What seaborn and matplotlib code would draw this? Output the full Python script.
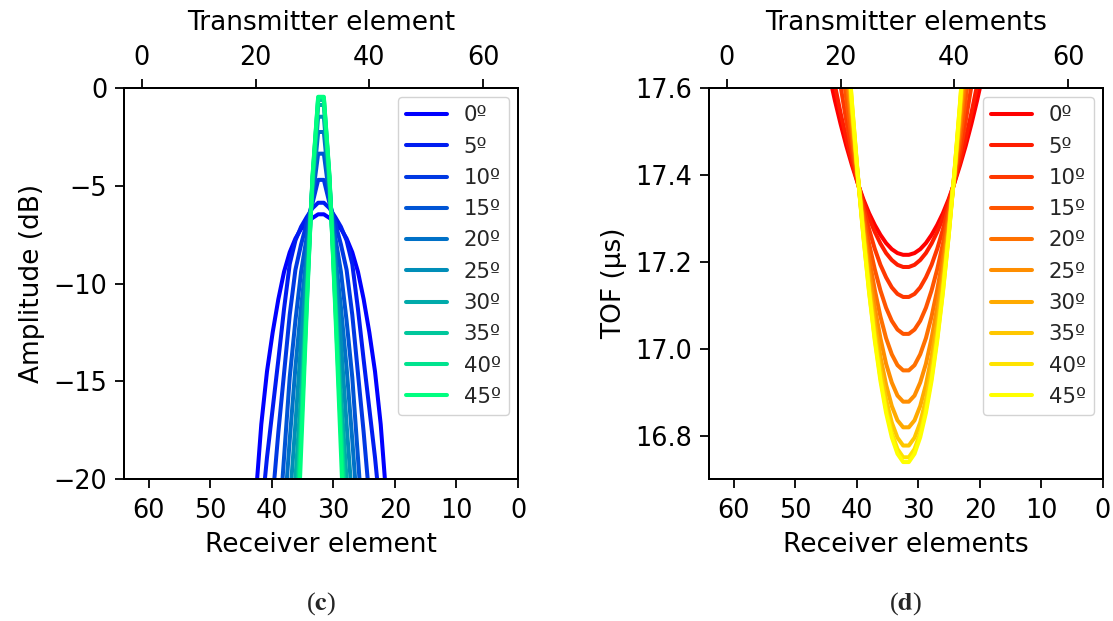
import numpy as np
import pandas as pd
import matplotlib
matplotlib.use("Agg")
import matplotlib.pyplot as plt
import seaborn as sns

nan = np.nan

angle_labels = ["0º", "5º", "10º", "15º", "20º", "25º", "30º", "35º", "40º", "45º"]

# Received amplitude (dB) per array element, elements 20..43
amp_elements = list(range(20, 44))
amp_00 = [-21.0, -17.2, -14.5, -12.5, -10.8, -9.4, -8.4, -7.7, -7.2, -6.9, -6.65, -6.46,
          -6.46, -6.65, -6.9, -7.2, -7.7, -8.4, -9.4, -10.8, -12.5, -14.5, -17.2, -21.0]
amp_05 = [nan, -21.9, -18.9, -16.4, -13.9, -11.3, -9.0, -7.8, -7.1, -6.6, -6.15, -5.87,
          -5.87, -6.15, -6.6, -7.1, -7.8, -9.0, -11.3, -13.9, -16.4, -18.9, -21.9, nan]
amp_10 = [nan, nan, nan, -21.0, -17.6, -14.6, -11.6, -9.3, -8.0, -6.9, -5.9, -4.7,
          -4.7, -5.9, -6.9, -8.0, -9.3, -11.6, -14.6, -17.6, -21.0, nan, nan, nan]
amp_15 = [nan, nan, nan, nan, -23.0, -18.9, -14.8, -11.9, -9.4, -7.6, -5.6, -3.36,
          -3.36, -5.6, -7.6, -9.4, -11.9, -14.8, -18.9, -23.0, nan, nan, nan, nan]
amp_20 = [nan, nan, nan, nan, nan, -22.0, -18.0, -14.3, -11.2, -8.5, -5.3, -2.25,
          -2.25, -5.3, -8.5, -11.2, -14.3, -18.0, -22.0, nan, nan, nan, nan, nan]
amp_25 = [nan, nan, nan, nan, nan, nan, -21.2, -17.2, -13.0, -9.2, -5.0, -1.47,
          -1.47, -5.0, -9.2, -13.0, -17.2, -21.2, nan, nan, nan, nan, nan, nan]
amp_30 = [nan, nan, nan, nan, nan, nan, -25.0, -20.0, -15.6, -10.2, -4.8, -0.87,
          -0.87, -4.8, -10.2, -15.6, -20.0, -25.0, nan, nan, nan, nan, nan, nan]
amp_35 = [nan, nan, nan, nan, nan, nan, nan, -22.5, -16.8, -10.7, -4.7, -0.62,
          -0.62, -4.7, -10.7, -16.8, -22.5, nan, nan, nan, nan, nan, nan, nan]
amp_40 = [nan, nan, nan, nan, nan, nan, nan, -24.0, -17.6, -11.0, -4.6, -0.5,
          -0.5, -4.6, -11.0, -17.6, -24.0, nan, nan, nan, nan, nan, nan, nan]
amp_45 = [nan, nan, nan, nan, nan, nan, nan, -26.0, -18.6, -11.3, -4.5, -0.45,
          -0.45, -4.5, -11.3, -18.6, -26.0, nan, nan, nan, nan, nan, nan, nan]

# Time of flight (µs) per array element, elements 18..45
tof_elements = list(range(18, 46))
tof_00 = [17.630, 17.571, 17.517, 17.467, 17.422, 17.381, 17.344, 17.312, 17.285, 17.262, 17.243, 17.229, 17.220, 17.216,
          17.216, 17.220, 17.229, 17.243, 17.262, 17.285, 17.312, 17.344, 17.381, 17.422, 17.467, 17.517, 17.571, 17.630]
tof_05 = [17.675, 17.606, 17.542, 17.484, 17.430, 17.382, 17.339, 17.301, 17.269, 17.242, 17.220, 17.204, 17.193, 17.188,
          17.188, 17.193, 17.204, 17.220, 17.242, 17.269, 17.301, 17.339, 17.382, 17.430, 17.484, 17.542, 17.606, 17.675]
tof_10 = [17.785, 17.691, 17.604, 17.524, 17.451, 17.385, 17.326, 17.275, 17.230, 17.193, 17.164, 17.141, 17.126, 17.119,
          17.119, 17.126, 17.141, 17.164, 17.193, 17.230, 17.275, 17.326, 17.385, 17.451, 17.524, 17.604, 17.691, 17.785]
tof_15 = [17.919, 17.795, 17.680, 17.574, 17.477, 17.389, 17.311, 17.242, 17.183, 17.134, 17.094, 17.064, 17.044, 17.034,
          17.034, 17.044, 17.064, 17.094, 17.134, 17.183, 17.242, 17.311, 17.389, 17.477, 17.574, 17.680, 17.795, 17.919]
tof_20 = [18.051, 17.897, 17.755, 17.623, 17.503, 17.393, 17.296, 17.210, 17.136, 17.074, 17.024, 16.987, 16.962, 16.950,
          16.950, 16.962, 16.987, 17.024, 17.074, 17.136, 17.210, 17.296, 17.393, 17.503, 17.623, 17.755, 17.897, 18.051]
tof_25 = [18.161, 17.984, 17.818, 17.665, 17.524, 17.397, 17.283, 17.182, 17.096, 17.024, 16.965, 16.922, 16.892, 16.878,
          16.878, 16.892, 16.922, 16.965, 17.024, 17.096, 17.182, 17.283, 17.397, 17.524, 17.665, 17.818, 17.984, 18.161]
tof_30 = [18.251, 18.053, 17.869, 17.698, 17.542, 17.400, 17.272, 17.160, 17.063, 16.982, 16.917, 16.868, 16.835, 16.819,
          16.819, 16.835, 16.868, 16.917, 16.982, 17.063, 17.160, 17.272, 17.400, 17.542, 17.698, 17.869, 18.053, 18.251]
tof_35 = [18.315, 18.103, 17.905, 17.722, 17.554, 17.402, 17.265, 17.144, 17.040, 16.953, 16.883, 16.830, 16.795, 16.777,
          16.777, 16.795, 16.830, 16.883, 16.953, 17.040, 17.144, 17.265, 17.402, 17.554, 17.722, 17.905, 18.103, 18.315]
tof_40 = [18.355, 18.135, 17.929, 17.738, 17.562, 17.403, 17.260, 17.134, 17.025, 16.934, 16.861, 16.806, 16.769, 16.750,
          16.750, 16.769, 16.806, 16.861, 16.934, 17.025, 17.134, 17.260, 17.403, 17.562, 17.738, 17.929, 18.135, 18.355]
tof_45 = [18.372, 18.148, 17.938, 17.744, 17.566, 17.403, 17.258, 17.130, 17.019, 16.926, 16.852, 16.796, 16.758, 16.739,
          16.739, 16.758, 16.796, 16.852, 16.926, 17.019, 17.130, 17.258, 17.403, 17.566, 17.744, 17.938, 18.148, 18.372]

amp_series = [amp_00, amp_05, amp_10, amp_15, amp_20, amp_25, amp_30, amp_35, amp_40, amp_45]
tof_series = [tof_00, tof_05, tof_10, tof_15, tof_20, tof_25, tof_30, tof_35, tof_40, tof_45]

amp_ticks = [-20, -15, -10, -5, 0]
tof_ticks = [16.8, 17.0, 17.2, 17.4, 17.6]
tx_ticks = [0, 20, 40, 60]
rx_ticks = [0, 10, 20, 30, 40, 50, 60]


def long_table(elements, series, value_name):
    frames = [pd.DataFrame({"element": elements, value_name: values, "angle": label})
              for label, values in zip(angle_labels, series)]
    return pd.concat(frames, ignore_index=True)


amp_df = long_table(amp_elements, amp_series, "amplitude")
tof_df = long_table(tof_elements, tof_series, "tof")

sns.set_style("ticks")
plt.rcParams.update({
    "font.family": ["DejaVu Sans"],
    "mathtext.fontset": "stix",
    "axes.linewidth": 1.4,
    "axes.edgecolor": "black",
    "xtick.major.size": 6.5,
    "ytick.major.size": 6.5,
    "xtick.major.width": 1.3,
    "ytick.major.width": 1.3,
    "xtick.major.pad": 5.5,
    "ytick.major.pad": 5.5,
    "xtick.labelsize": 18.4,
    "ytick.labelsize": 18.4,
    "xtick.color": "black",
    "ytick.color": "black",
    "axes.labelsize": 19,
    "axes.labelcolor": "black",
    "xtick.direction": "out",
    "ytick.direction": "out",
})

W, H = 1113, 621
fig = plt.figure(figsize=(W / 100, H / 100), dpi=100)
ax_l = fig.add_axes([124 / W, 1 - 479 / H, 394 / W, 391 / H])
ax_r = fig.add_axes([709 / W, 1 - 479 / H, 394 / W, 391 / H])

winter = [tuple(c) for c in plt.get_cmap("winter")(np.linspace(0, 1, len(angle_labels)))]
autumn = [tuple(c) for c in plt.get_cmap("autumn")(np.linspace(0, 1, len(angle_labels)))]


def draw_panel(ax, df, value, palette, ylim, yticks, ylabel, top_label, bottom_label, yfmt):
    sns.lineplot(data=df, x="element", y=value, hue="angle", hue_order=angle_labels,
                 palette=palette, linewidth=2.9, estimator=None, errorbar=None,
                 sort=False, ax=ax)
    ax.set_xlim(-3.15, 66.15)
    ax.set_ylim(*ylim)
    ax.set_yticks(yticks)
    ax.set_yticklabels([yfmt(v) for v in yticks])
    ax.set_ylabel(ylabel, labelpad=6)

    handles, labels = ax.get_legend_handles_labels()
    ax.legend(handles, labels, loc="upper right", fontsize=15.3, handlelength=1.9,
              labelspacing=0.53, borderaxespad=0.42, framealpha=0.85,
              edgecolor="0.8", fancybox=True)

    # receiver scale along the bottom, transmitter scale along the top
    bottom = ax.twiny()
    bottom.set_xlim(64, 0)
    bottom.set_xticks(rx_ticks)
    bottom.xaxis.set_ticks_position("bottom")
    bottom.xaxis.set_label_position("bottom")
    bottom.tick_params(axis="x", pad=7)
    bottom.set_xlabel(bottom_label, labelpad=6)

    ax.set_xticks(tx_ticks)
    ax.xaxis.set_ticks_position("top")
    ax.xaxis.set_label_position("top")
    ax.set_xlabel(top_label, labelpad=11)

    for a in (ax, bottom):
        for s in a.spines.values():
            s.set_visible(True)
            s.set_linewidth(1.4)
    return bottom


draw_panel(ax_l, amp_df, "amplitude", winter, (-20, 0), amp_ticks, "Amplitude (dB)",
           "Transmitter element", "Receiver element", lambda v: f"{v:d}".replace("-", "\u2212"))
draw_panel(ax_r, tof_df, "tof", autumn, (16.70, 17.6), tof_ticks, "TOF (µs)",
           "Transmitter elements", "Receiver elements", lambda v: f"{v:.1f}")

fig.text(321 / W, 1 - 604 / H, r"($\mathbf{c}$)", ha="center", va="center",
         fontsize=19, family="Liberation Serif")
fig.text(906 / W, 1 - 604 / H, r"($\mathbf{d}$)", ha="center", va="center",
         fontsize=19, family="Liberation Serif")

fig.savefig("out.png", dpi=100)
